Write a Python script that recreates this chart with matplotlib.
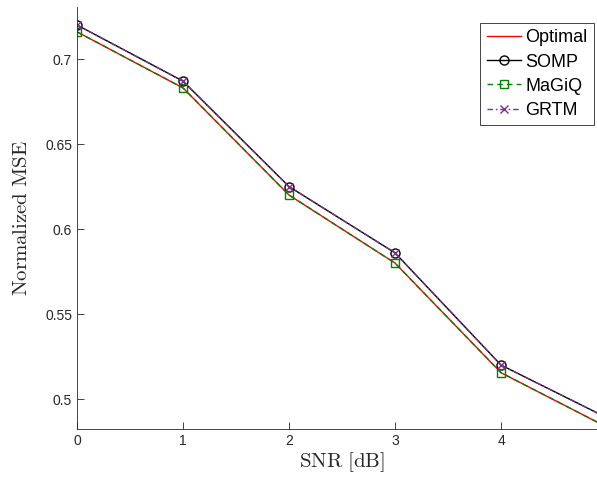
import numpy as np
import matplotlib
matplotlib.use("Agg")
import matplotlib.pyplot as plt

plt.rcParams['font.family'] = ['Liberation Sans', 'DejaVu Sans']
plt.rcParams['mathtext.fontset'] = 'cm'

snr = [0, 1, 2, 3, 4, 5]
optimal = [0.716, 0.683, 0.620, 0.580, 0.5155, 0.4835]
somp = [0.720, 0.687, 0.625, 0.586, 0.520, 0.489]
magiq = [0.716, 0.683, 0.620, 0.580, 0.5155, 0.4835]
grtm = [0.720, 0.687, 0.625, 0.586, 0.520, 0.489]

purple = (0.494, 0.184, 0.556)
green = (0, 0.5, 0)

fig = plt.figure(figsize=(5.97, 4.78), dpi=100)
ax = fig.add_axes([77/597, 49/478, 530/597, 422/478])

ax.plot(snr, optimal, '-', color='red', lw=1, label='Optimal')
ax.plot(snr, somp, '-o', color='black', lw=1, ms=6.5, mfc='none', mew=1, label='SOMP')
ax.plot(snr, magiq, '--s', color=green, lw=1, ms=5.2, mfc='none', mew=1,
        dashes=(4, 3), label='MaGiQ')
ax.plot(snr, grtm, '-.x', color=purple, lw=1, ms=5.5, mew=1,
        dashes=(4, 2, 1.2, 2), label='GRTM')

ax.set_xlim(0, 5)
ax.set_ylim(0.4824, 0.7306)
ax.set_xticks([0, 1, 2, 3, 4])
ax.set_yticks([0.5, 0.55, 0.6, 0.65, 0.7])
ax.set_yticklabels(['0.5', '0.55', '0.6', '0.65', '0.7'])
ax.tick_params(direction='in', length=5, labelsize=10, colors='#262626', width=0.6)
for s in ['top', 'right']:
    ax.spines[s].set_visible(False)
for s in ['left', 'bottom']:
    ax.spines[s].set_color('#262626')
    ax.spines[s].set_linewidth(0.6)

ax.set_xlabel(r'$\mathrm{SNR\ [dB]}$', fontsize=15, color='#262626', labelpad=2)
ax.set_ylabel(r'$\mathrm{Normalized\ MSE}$', fontsize=15, color='#262626', labelpad=10)

leg = ax.legend(loc='upper right', bbox_to_anchor=(517/530, 1 - 16/422), fontsize=13,
                fancybox=False, edgecolor='#262626', framealpha=1, handlelength=1.9,
                borderpad=0.35, labelspacing=0.4, handletextpad=0.25, borderaxespad=0)
leg.get_frame().set_linewidth(0.6)

fig.savefig('out.png', dpi=100)
